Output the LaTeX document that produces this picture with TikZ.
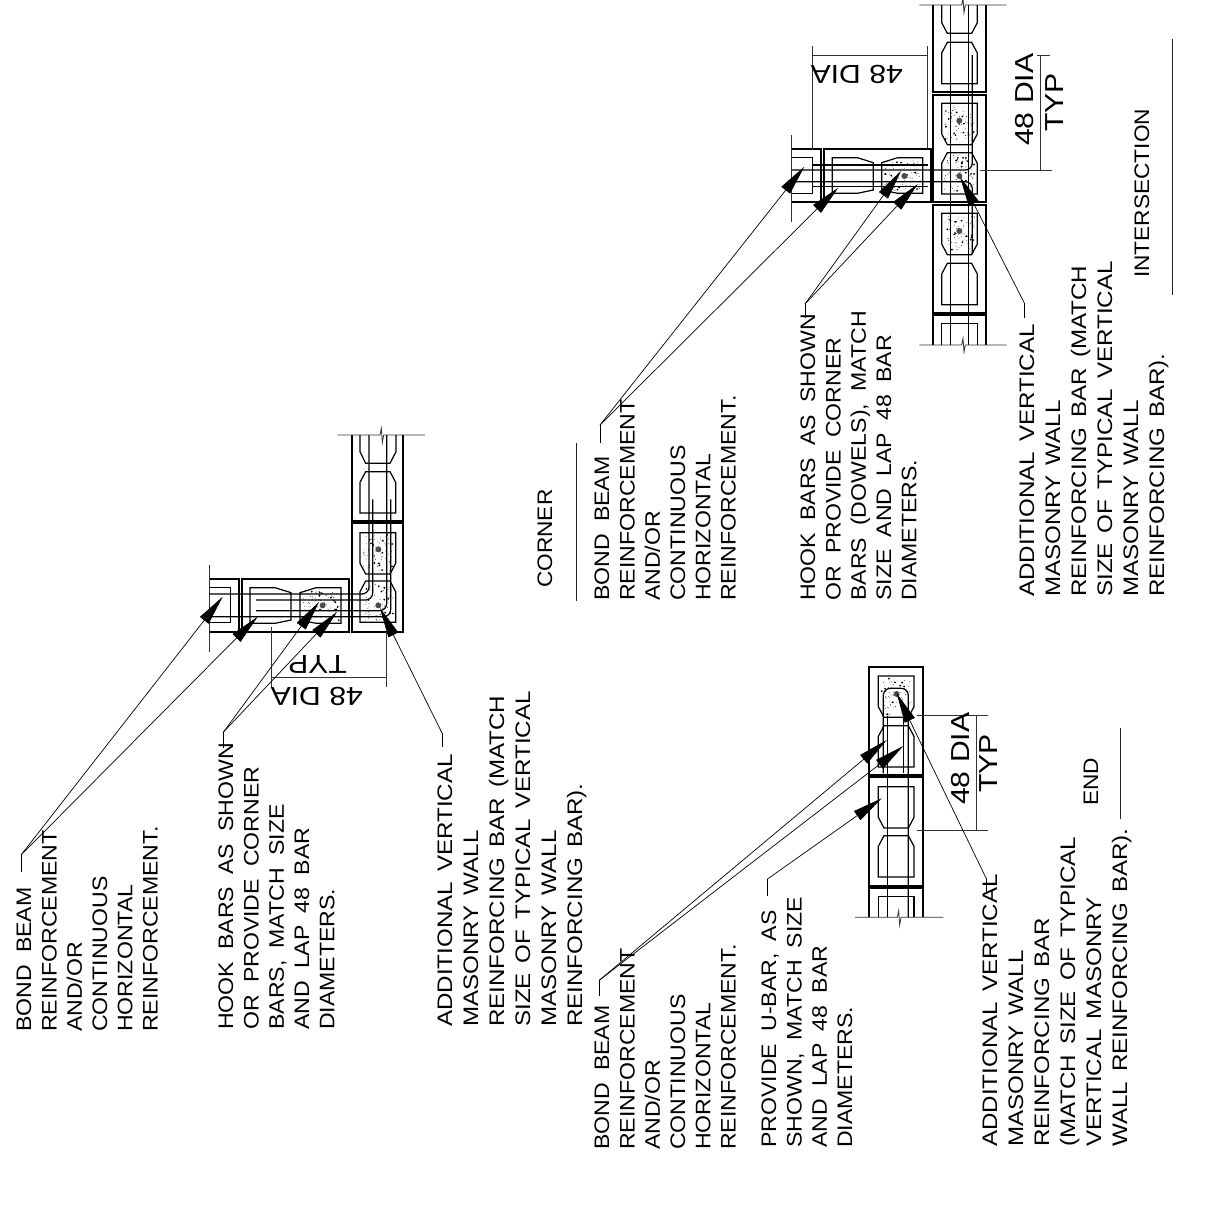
\documentclass[tikz,border=0pt]{standalone}
\usepackage{fontspec}
\usetikzlibrary{arrows.meta}
\newfontfamily\cadfam[FakeStretch=1.10,WordSpace=1.9]{Liberation Sans}
\newfontfamily\cadwide[FakeStretch=1.15,WordSpace=1.5]{Liberation Sans}
\newfontfamily\titfam[FakeStretch=1.08]{Liberation Sans}
\newfontfamily\dimfam[FakeStretch=1.16]{Liberation Sans}
\newcommand\cadA{\cadfam\fontsize{21}{25.3}\selectfont}
\newcommand\cadB{\cadwide\fontsize{21}{26}\selectfont}
\newcommand\cadT{\titfam\fontsize{21}{25.3}\selectfont}
\newcommand\dimf{\dimfam\fontsize{26}{28}\selectfont}
\newcommand\strt{\rule{0pt}{16pt}}
\tikzset{
  txt/.style={rotate=90,anchor=north west,inner sep=0pt,align=left,font=\cadA,text=black},
  txtb/.style={txt,font=\cadB},
  txtt/.style={txt,font=\cadT},
  dimup/.style={rotate=90,anchor=base west,inner sep=0pt,font=\dimf},
  dimdn/.style={rotate=180,anchor=base west,inner sep=0pt,font=\dimf},
  wall/.style={line width=2.1pt,draw=black},
  cell/.style={line width=1.2pt,draw=black,line join=miter},
  barl/.style={line width=1.2pt,draw=black,rounded corners=7pt},
  thin/.style={line width=0.8pt,draw=black!80},
  rule/.style={line width=1pt,draw=black!85},
  lead/.style={line width=0.7pt,draw=black,-{Triangle[length=30pt,width=11pt]}},
  stub/.style={line width=0.7pt,draw=black},
  zoomed/.style={x=0.33333pt,y=-0.33333pt},
}
% cells in zoom units: 107 wide, 124 long
\newcommand\cellDn[2]{\draw[cell] (#1,#2) -- ++(107,0) -- ++(0,92) -- ++(-17,32) -- ++(-73,0) -- ++(-17,-32) -- cycle;}
\newcommand\cellUp[2]{\draw[cell] (#1+17,#2) -- ++(73,0) -- ++(17,32) -- ++(0,92) -- ++(-107,0) -- ++(0,-92) -- cycle;}
\newcommand\cellR[2]{\draw[cell] (#1,#2) -- ++(75,0) -- ++(48,15) -- ++(0,82) -- ++(-48,10) -- ++(-75,0) -- cycle;}
\newcommand\cellL[2]{\draw[cell] (#1+48,#2) -- ++(75,0) -- ++(0,107) -- ++(-75,0) -- ++(-48,-10) -- ++(0,-82) -- cycle;}
\newcommand\stip[4]{%
  \foreach \i in {1,...,60}{\fill[black] ({#1+3+rnd*(#3-6)},{#2+3+rnd*(#4-6)}) circle (0.4pt);}%
  \foreach \i in {1,...,14}{\fill[black] ({#1+3+rnd*(#3-6)},{#2+3+rnd*(#4-6)}) circle (1pt);}%
}
\newcommand\rebar[2]{\fill[black!70] (#1,#2) circle (3pt);}
\begin{document}
\begin{tikzpicture}[x=1pt,y=-1pt]
\pgfmathsetseed{4217}
\path[fill=white,use as bounding box] (0,0) rectangle (1210,1213);

%% ---------- CORNER plan
\begin{scope}[shift={(190,420)},zoomed]
  \draw[wall] (485,45) -- (485,303) -- (640,303) -- (640,45);
  \draw[wall] (485,310) rectangle (640,635);
  \draw[wall] (58,478) -- (147,478) -- (147,635) -- (58,635);
  \draw[wall] (155,478) rectangle (478,635);
  \draw[thin] (442,45) -- (570,45) -- (574,25) -- (577,68) -- (581,45) -- (705,45);
  \draw[thin] (58,435) -- (58,697);
  \draw[cell] (510,45) -- (510,95) -- (527,130) -- (600,130) -- (618,95) -- (618,45);
  \cellUp{510}{155}
  \cellDn{510}{338}
  \cellUp{510}{483}
  \stip{515}{342}{97}{115}
  \stip{515}{488}{97}{116}
  \draw[cell] (58,503) -- (122,503) -- (122,608) -- (58,608);
  \cellR{180}{503}
  \cellL{330}{503}
  \stip{335}{508}{115}{97}
  \rebar{565}{388}
  \rebar{565}{556}
  \rebar{398}{556}
  \draw[barl] (537,45) -- (537,522) -- (58,522);
  \draw[barl] (548,238) -- (548,540) -- (198,540);
  \draw[barl] (590,45) -- (590,572) -- (198,572);
  \draw[barl] (602,238) -- (602,590) -- (58,590);
\end{scope}
\draw[thin] (271.7,627) -- (271.7,687);
\draw[thin] (386.7,632) -- (386.7,687);
\draw[thin] (271.7,677.3) -- (386.7,677.3);
\node[dimdn] (cTyp) at (347,655) {TYP};
\node[dimdn] (cDia) at (363,687) {48 DIA};

%% ---------- INTERSECTION plan
\begin{scope}[shift={(770,0)},zoomed]
  \draw[wall] (490,15) -- (490,275) -- (648,275) -- (648,15);
  \draw[wall] (490,285) rectangle (648,605);
  \draw[wall] (490,615) rectangle (648,938);
  \draw[wall] (490,1035) -- (490,945) -- (648,945) -- (648,1035);
  \draw[thin] (448,15) -- (575,15) -- (579,-5) -- (582,38) -- (586,15) -- (710,15);
  \draw[thin] (448,1035) -- (575,1035) -- (579,1015) -- (582,1056) -- (586,1035) -- (710,1035);
  \draw[cell] (515,15) -- (515,68) -- (532,100) -- (605,100) -- (622,68) -- (622,15);
  \cellUp{515}{127}
  \cellDn{515}{310}
  \cellUp{515}{458}
  \cellDn{515}{640}
  \cellUp{515}{790}
  \draw[cell] (515,1035) -- (515,970) -- (622,970) -- (622,1035);
  \stip{520}{315}{97}{112}
  \stip{520}{462}{97}{114}
  \stip{520}{645}{97}{112}
  \draw[wall] (65,448) -- (153,448) -- (153,605) -- (65,605);
  \draw[wall] (162,448) rectangle (483,605);
  \draw[thin] (65,405) -- (65,665);
  \draw[cell] (65,473) -- (128,473) -- (128,580) -- (65,580);
  \cellR{187}{473}
  \cellL{335}{473}
  \stip{340}{478}{115}{97}
  \rebar{568}{362}
  \rebar{568}{528}
  \rebar{568}{693}
  \rebar{403}{528}
  \draw[barl] (542,15) -- (542,1035);
  \draw[barl] (595,15) -- (595,1035);
  \draw[barl] (607,165) -- (607,510) -- (65,510);
  \draw[barl] (607,762) -- (607,545) -- (65,545);
  \draw[cell] (128,495) -- (473,495);
  \draw[cell] (128,560) -- (473,560);
\end{scope}
\draw[thin] (812.3,46) -- (812.3,150);
\draw[thin] (927.3,46) -- (927.3,149);
\draw[thin] (812.3,55) -- (927.3,55);
\node[dimdn] (iDiaH) at (903,65) {48 DIA};
\draw[thin] (1040,55) -- (1040,170);
\draw[thin] (980,170) -- (1052,170);
\draw[thin] (1037,55) -- (1050,55);
\node[dimup] (iDiaV) at (1033,146) {48 DIA};
\node[dimup] (iTyp) at (1063,132) {TYP};

%% ---------- END plan
\begin{scope}[shift={(840,660)},zoomed]
  \draw[wall] (88,22) rectangle (248,345);
  \draw[wall] (88,352) rectangle (248,677);
  \draw[wall] (88,772) -- (88,683) -- (248,683) -- (248,772);
  \draw[thin] (45,772) -- (172,772) -- (176,752) -- (179,795) -- (183,772) -- (310,772);
  \cellDn{115}{48}
  \cellUp{115}{197}
  \cellDn{115}{380}
  \cellUp{115}{527}
  \draw[cell] (115,772) -- (115,710) -- (222,710) -- (222,772);
  \stip{120}{52}{97}{116}
  \rebar{170}{102}
  \draw[barl] (205,772) -- (205,85) -- (130,85) -- (130,340);
  \draw[barl] (142,772) -- (142,168);
  \draw[barl] (190,340) -- (190,168);
\end{scope}
\draw[thin] (916.7,715) -- (988,715);
\draw[thin] (916.7,830) -- (988,830);
\draw[thin] (976.7,715) -- (976.7,830);
\node[dimup] (eDia) at (969,805) {48 DIA};
\node[dimup] (eTyp) at (997,793) {TYP};

%% ---------- rules
\draw[rule] (576,443) -- (576,601);
\draw[rule] (1172.7,39) -- (1172.7,295);
\draw[rule] (1120.7,728) -- (1120.7,819);

%% ---------- texts
\node[txt] (t1) at (15,1032) {\strt BOND BEAM\\REINFORCEMENT\\AND/OR\\CONTINUOUS\\HORIZONTAL\\REINFORCEMENT.};
\node[txt] (t2) at (217,1030) {\strt HOOK BARS AS SHOWN\\OR PROVIDE CORNER\\BARS, MATCH SIZE\\AND LAP 48 BAR\\DIAMETERS.};
\node[txtb] (t3) at (436,1027) {\strt ADDITIONAL VERTICAL\\MASONRY WALL\\REINFORCING BAR (MATCH\\SIZE OF TYPICAL VERTICAL\\MASONRY WALL\\REINFORCING BAR).};
\node[txt] (t4) at (593,1150) {\strt BOND BEAM\\REINFORCEMENT\\AND/OR\\CONTINUOUS\\HORIZONTAL\\REINFORCEMENT.};
\node[txt] (t5) at (760,1148) {\strt PROVIDE U-BAR, AS\\SHOWN, MATCH SIZE\\AND LAP 48 BAR\\DIAMETERS.};
\node[txtb] (t6) at (981,1147) {\strt ADDITIONAL VERTICAL\\MASONRY WALL\\REINFORCING BAR\\(MATCH SIZE OF TYPICAL\\VERTICAL MASONRY\\WALL REINFORCING BAR).};
\node[txtt] (t7) at (536,588) {\strt CORNER};
\node[txt] (t8) at (593,601) {\strt BOND BEAM\\REINFORCEMENT\\AND/OR\\CONTINUOUS\\HORIZONTAL\\REINFORCEMENT.};
\node[txt] (t9) at (799,601) {\strt HOOK BARS AS SHOWN\\OR PROVIDE CORNER\\BARS (DOWELS), MATCH\\SIZE AND LAP 48 BAR\\DIAMETERS.};
\node[txtb] (t10) at (1018,597) {\strt ADDITIONAL VERTICAL\\MASONRY WALL\\REINFORCING BAR (MATCH\\SIZE OF TYPICAL VERTICAL\\MASONRY WALL\\REINFORCING BAR).};
\node[txtt] (t11) at (1082,806) {\strt END};
\node[txtt] (t12) at (1133,278) {\strt INTERSECTION};

%% ---------- leaders: corner
\coordinate (aS) at (21,872); \coordinate (aJ) at (21,855);
\coordinate (aT1) at (222.7,596.7); \coordinate (aT2) at (257.7,616.7);
\draw[stub] (aS) -- (aJ);
\draw[lead] (aJ) -- (aT1);
\draw[lead] (aJ) -- (aT2);
\coordinate (bS) at (223.5,748); \coordinate (bJ) at (223.5,732);
\coordinate (bT1) at (319,602); \coordinate (bT2) at (337,612);
\draw[stub] (bS) -- (bJ);
\draw[lead] (bJ) -- (bT1);
\draw[lead] (bJ) -- (bT2);
\coordinate (cS) at (442,747); \coordinate (cJ) at (442,733);
\coordinate (cT) at (380,608);
\draw[stub] (cS) -- (cJ);
\draw[lead] (cJ) -- (cT);

%% ---------- leaders: intersection
\coordinate (dS) at (600,443); \coordinate (dJ) at (600,425);
\coordinate (dT1) at (804.3,166.7); \coordinate (dT2) at (838.3,187.7);
\draw[stub] (dS) -- (dJ);
\draw[lead] (dJ) -- (dT1);
\draw[lead] (dJ) -- (dT2);
\coordinate (fS) at (805,318); \coordinate (fJ) at (805,304);
\coordinate (fT1) at (901,171); \coordinate (fT2) at (917.7,184);
\draw[stub] (fS) -- (fJ);
\draw[lead] (fJ) -- (fT1);
\draw[lead] (fJ) -- (fT2);
\coordinate (gS) at (1024.3,318); \coordinate (gJ) at (1024.3,303);
\coordinate (gT) at (960,176.7);
\draw[stub] (gS) -- (gJ);
\draw[lead] (gJ) -- (gT);

%% ---------- leaders: end
\coordinate (hS) at (599.6,996); \coordinate (hJ) at (599.6,980);
\coordinate (hT1) at (886.7,740); \coordinate (hT2) at (903.3,746);
\draw[stub] (hS) -- (hJ);
\draw[lead] (hJ) -- (hT1);
\draw[lead] (hJ) -- (hT2);
\coordinate (kS) at (767.5,896); \coordinate (kJ) at (767.5,879);
\coordinate (kT) at (881.7,798.3);
\draw[stub] (kS) -- (kJ);
\draw[lead] (kJ) -- (kT);
\coordinate (mS) at (986,892); \coordinate (mJ) at (986,878);
\coordinate (mT) at (896.7,693.3);
\draw[stub] (mS) -- (mJ);
\draw[lead] (mJ) -- (mT);
\end{tikzpicture}
\end{document}
